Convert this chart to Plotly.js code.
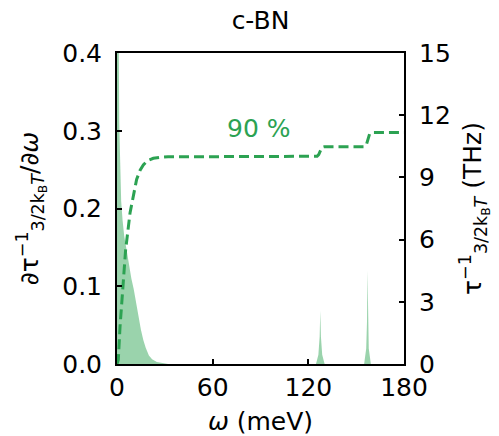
<!DOCTYPE html>
<html>
<head>
<meta charset="utf-8">
<script src="https://cdn.plot.ly/plotly-3.0.1.min.js"></script>
<style>html,body{margin:0;padding:0;background:#fff;}#chart{width:499px;height:436px;}</style>
</head>
<body>
<div id="chart"></div>
<script>
// Spectral derivative of scattering rate (left axis)
const omegaDist = [0, 1.0, 1.4, 2.0, 2.6, 3.5, 4.5, 6, 7.5, 9, 10.5, 12, 13.5, 15, 16.5, 18, 20, 22, 25, 28, 32,
  124.8, 126.3, 127.1, 127.5, 127.9, 128.7, 130.2,
  155.0, 156.3, 156.8, 157.1, 157.4, 157.9, 159.2, 180];
const rateDist = [0.6, 0.45, 0.31, 0.25, 0.21, 0.185, 0.165, 0.147, 0.127, 0.11, 0.096, 0.077, 0.059, 0.044, 0.031, 0.021, 0.011, 0.006, 0.0025, 0.001, 0,
  0, 0.012, 0.035, 0.0686, 0.035, 0.012, 0,
  0, 0.02, 0.055, 0.12, 0.055, 0.02, 0, 0];

// Cumulative scattering rate (right axis, THz)
const omegaCum = [0, 0.8, 1.9, 3.6, 5.4, 8.2, 9.8, 12.3, 14.5, 16.5, 19, 22.8, 27, 32, 60, 125.5, 126.5, 127.5, 128.5, 130, 155.5, 156.5, 157.5, 158.5, 160, 180];
const tauCum = [0, 0.2, 1.8, 3.7, 5.5, 7.3, 7.9, 8.9, 9.35, 9.6, 9.8, 9.92, 9.97, 10.0, 10.0, 10.02, 10.1, 10.3, 10.45, 10.48, 10.48, 10.6, 10.9, 11.12, 11.16, 11.16];

const xTicks = [0, 60, 120, 180];
const yTicksLeft = [0, 0.1, 0.2, 0.3, 0.4];
const yTicksRight = [0, 3, 6, 9, 12, 15];

const green = 'rgb(44,162,82)';
const font = {family: 'DejaVu Sans', size: 25, color: '#000'};

const traces = [
  {x: omegaDist, y: rateDist, type: 'scatter', mode: 'lines', fill: 'tozeroy',
   fillcolor: 'rgba(44,162,82,0.48)', line: {width: 0, color: 'rgba(44,162,82,0.48)'},
   xaxis: 'x', yaxis: 'y', hoverinfo: 'skip', showlegend: false},
  {x: omegaCum, y: tauCum, type: 'scatter', mode: 'lines',
   line: {color: green, width: 3, dash: '10px,5px'},
   xaxis: 'x', yaxis: 'y2', showlegend: false}
];

const axisCommon = {showline: true, linecolor: '#000', linewidth: 2, ticks: 'inside', ticklen: 5,
  tickwidth: 2, tickcolor: '#000', showgrid: false, zeroline: false, tickfont: font};

const layout = {
  width: 499, height: 436,
  margin: {l: 117, r: 95, t: 53, b: 72, pad: 0},
  paper_bgcolor: '#fff', plot_bgcolor: '#fff',
  font: font,
  title: {text: 'c-BN', font: font, x: 0.5, xref: 'paper', xanchor: 'center', y: 1, yref: 'paper', yanchor: 'bottom', pad: {b: 24}},
  xaxis: Object.assign({}, axisCommon, {range: [0, 180], tickvals: xTicks, ticktext: xTicks.map(String), mirror: true,
    title: {text: '<i>ω</i> (meV)', font: font, standoff: 17}}),
  yaxis: Object.assign({}, axisCommon, {range: [0, 0.4], tickvals: yTicksLeft, ticktext: yTicksLeft.map(v => v.toFixed(1)),
    mirror: true, ticklabelstandoff: 8,
    title: {text: '∂τ<sup>−1</sup><sub>3/2k<sub>B</sub><i>T</i></sub>/∂<i>ω</i>', font: font, standoff: 16}}),
  yaxis2: Object.assign({}, axisCommon, {range: [0, 15], tickvals: yTicksRight, ticktext: yTicksRight.map(String),
    overlaying: 'y', side: 'right', ticklabelstandoff: 8,
    title: {text: 'τ<sup>−1</sup><sub>3/2k<sub>B</sub><i>T</i></sub> (THz)', font: font, standoff: 14}}),
  annotations: [{x: 89, y: 0.303, xref: 'x', yref: 'y', text: '90 %', showarrow: false,
    font: {family: 'DejaVu Sans', size: 25, color: green}, xanchor: 'center', yanchor: 'middle'}]
};

Plotly.newPlot('chart', traces, layout, {staticPlot: true, displayModeBar: false});
</script>
</body>
</html>
